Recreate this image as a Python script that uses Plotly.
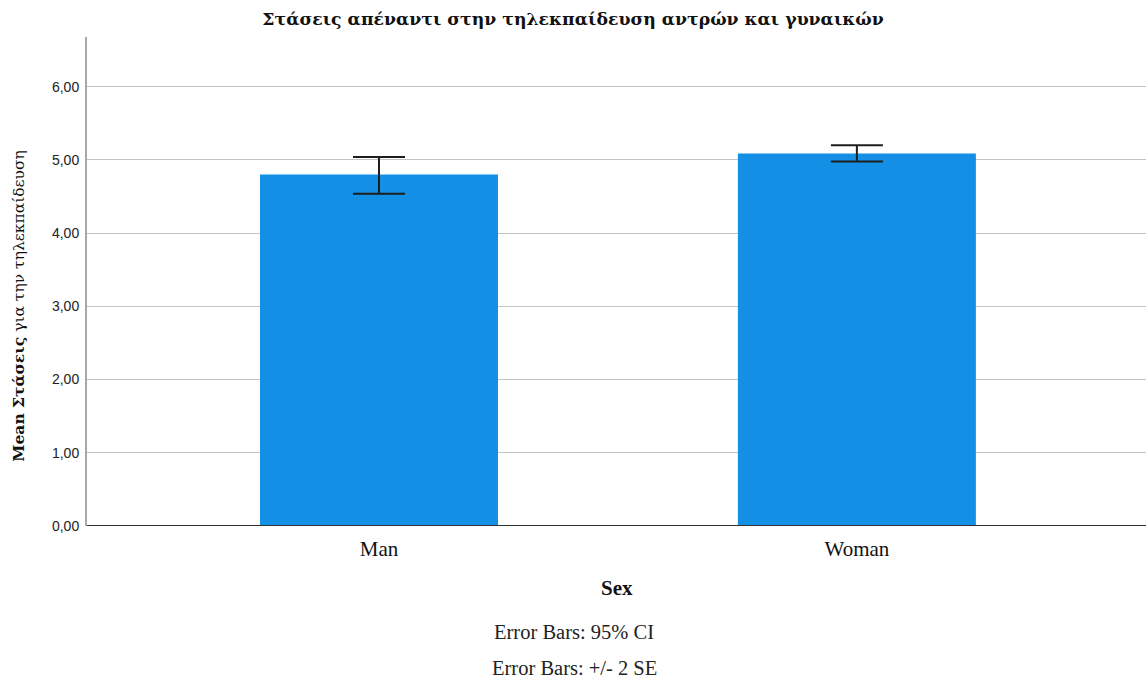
import plotly.graph_objects as go

categories = ["Man", "Woman"]
means = [4.80, 5.09]
err_upper = [5.04, 5.20]
err_lower = [4.54, 4.98]
y_ticks = [0, 1, 2, 3, 4, 5, 6]
y_tick_labels = ["0,00", "1,00", "2,00", "3,00", "4,00", "5,00", "6,00"]

x_pos = list(range(len(categories)))
plus = [u - m for u, m in zip(err_upper, means)]
minus = [m - l for m, l in zip(means, err_lower)]

serif = "Liberation Serif, Times New Roman, serif"
greek_serif = "DejaVu Serif, serif"
sans = "Liberation Sans, Arial, sans-serif"

fig = go.Figure()
fig.add_trace(go.Bar(
    x=x_pos, y=means, width=0.498,
    marker=dict(color="#1390e6", line=dict(width=0)),
    error_y=dict(type="data", symmetric=False, array=plus, arrayminus=minus,
                 color="#1e1e1e", thickness=2, width=26),
    showlegend=False, hoverinfo="skip",
))

fig.update_layout(
    width=1146, height=682,
    margin=dict(l=87, r=0, t=37, b=156),
    paper_bgcolor="white", plot_bgcolor="white",
    title=dict(text="<b>Στάσεις απέναντι στην τηλεκπαίδευση αντρών και γυναικών</b>",
               x=0.5, xanchor="center", y=0.972, yanchor="middle",
               font=dict(family=greek_serif, size=17.3, color="#111")),
    xaxis=dict(range=[-0.611, 1.605], tickvals=x_pos, ticktext=categories,
               showgrid=False, zeroline=False, showline=False, ticks="",
               ticklabelstandoff=8,
               tickfont=dict(family=serif, size=21, color="#111")),
    yaxis=dict(range=[0, 6.68], tickvals=y_ticks, ticktext=y_tick_labels,
               showgrid=True, gridcolor="#c4c4c4", gridwidth=1,
               zeroline=False, showline=True, linecolor="#a8a8a8", linewidth=2,
               ticks="", ticklabelstandoff=3,
               tickfont=dict(family=sans, size=14, color="#222")),
    shapes=[dict(type="line", xref="paper", yref="y", x0=0, x1=1, y0=0, y1=0,
                 line=dict(color="#333", width=2), layer="above")],
    annotations=[
        dict(text="<b>Mean Στάσεις</b> για την τηλεκπαίδευση", textangle=-90,
             xref="paper", yref="paper", x=-0.0645, y=0.45, xanchor="center", yanchor="middle",
             showarrow=False, font=dict(family=greek_serif, size=15.5, color="#111")),
        dict(text="<b>Sex</b>", xref="paper", yref="paper", x=0.5, y=-0.127,
             xanchor="center", yanchor="middle", showarrow=False,
             font=dict(family=serif, size=21, color="#111")),
        dict(text="Error Bars: 95% CI", xref="paper", yref="paper", x=0.460, y=-0.217,
             xanchor="center", yanchor="middle", showarrow=False,
             font=dict(family=serif, size=20.5, color="#222")),
        dict(text="Error Bars: +/- 2 SE", xref="paper", yref="paper", x=0.460, y=-0.291,
             xanchor="center", yanchor="middle", showarrow=False,
             font=dict(family=serif, size=20.5, color="#222")),
    ],
)

fig.write_html("out.html")
